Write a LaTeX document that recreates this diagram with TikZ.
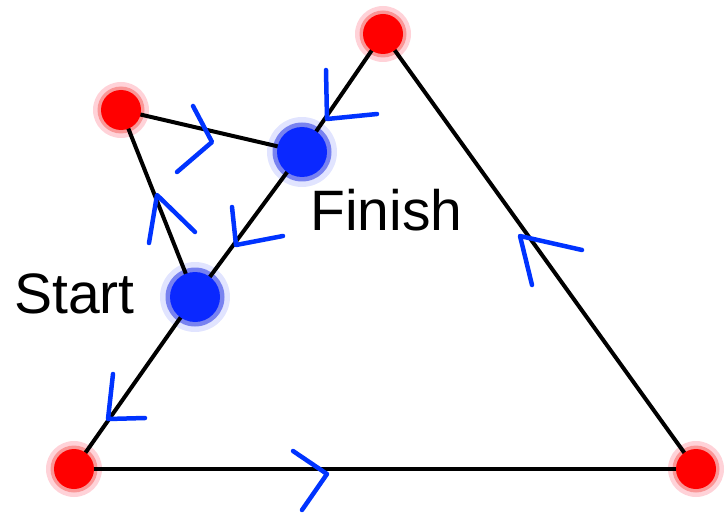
\documentclass[tikz,border=0pt]{standalone}
\usepackage{fontspec}
\setmainfont{Liberation Sans}
\usetikzlibrary{backgrounds}
\definecolor{dotred}{RGB}{255,0,0}
\definecolor{haloredA}{RGB}{255,210,216}
\definecolor{haloredB}{RGB}{250,150,150}
\definecolor{dotblue}{RGB}{10,40,255}
\definecolor{haloblueA}{RGB}{225,228,255}
\definecolor{haloblueB}{RGB}{120,130,240}
\definecolor{arrowblue}{RGB}{0,51,255}
\tikzset{
  reddot/.style={circle,fill=dotred,inner sep=0pt,minimum size=40pt},
  bluedot/.style={circle,fill=dotblue,inner sep=0pt,minimum size=50pt},
  edge/.style={draw=black,line width=4pt},
  arrowstroke/.style={draw=arrowblue,line width=4.5pt,line join=round,line cap=round},
  lbl/.style={inner sep=0pt,anchor=base west,font=\fontsize{57}{62}\selectfont}
}
\begin{document}
\begin{tikzpicture}[x=1pt,y=-1pt]
\useasboundingbox (0,0) rectangle (725,513);
% dots
\node[reddot] (top) at (383,34) {};
\node[reddot] (lft) at (121,110) {};
\node[reddot] (bl) at (74,469) {};
\node[reddot] (br) at (696,469) {};
\node[bluedot] (fin) at (302,152) {};
\node[bluedot] (sta) at (195,297) {};
\begin{pgfonlayer}{background}
  \foreach \n in {top,lft,bl,br}{
    \fill[haloredA] (\n) circle (28);
    \fill[haloredB] (\n) circle (23.5);
  }
  \foreach \n in {fin,sta}{
    \fill[haloblueA] (\n) circle (35);
    \fill[haloblueB] (\n) circle (29.5);
  }
  \path[edge] (bl.center) -- (br.center);
  \path[edge] (br.center) -- (top.center);
  \path[edge] (top.center) -- (fin.center);
  \path[edge] (fin.center) -- (sta.center);
  \path[edge] (sta.center) -- (bl.center);
  \path[edge] (lft.center) -- (fin.center);
  \path[edge] (lft.center) -- (sta.center);
\end{pgfonlayer}
% labels
\node[lbl] (startlbl) at (14,313) {Start};
\node[lbl] (finlbl) at (310,230) {Finish};
% arrowheads
\coordinate (a1) at (327,119); \path[arrowstroke] (326,70) -- (a1) -- (377,114);
\coordinate (a2) at (212,142); \path[arrowstroke] (193,106) -- (a2) -- (177,172);
\coordinate (a3) at (157,195); \path[arrowstroke] (149,243) -- (a3) -- (195,232);
\coordinate (a4) at (236,245); \path[arrowstroke] (232,207) -- (a4) -- (283,236);
\coordinate (a5) at (108,419); \path[arrowstroke] (113,374) -- (a5) -- (145,418);
\coordinate (a6) at (327,474); \path[arrowstroke] (293,451) -- (a6) -- (302,510);
\coordinate (a7) at (520,236); \path[arrowstroke] (532,285) -- (a7) -- (582,250);
\end{tikzpicture}
\end{document}
